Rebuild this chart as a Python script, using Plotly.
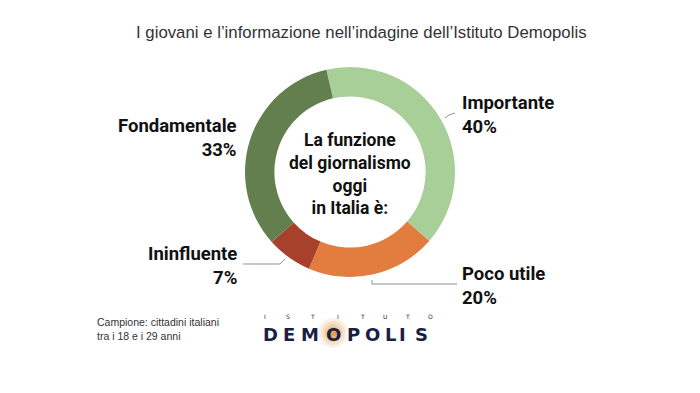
import plotly.graph_objects as go

# ---- data ----
categories = ["Importante", "Poco utile", "Ininfluente", "Fondamentale"]
values = [40, 20, 7, 33]
colors = ["#a8cf98", "#e27d3f", "#a8412b", "#627f4d"]
title_text = "I giovani e l’informazione nell’indagine dell’Istituto Demopolis"
center_text = "La funzione<br>del giornalismo<br>oggi<br>in Italia è:"
note_text = "Campione: cittadini italiani<br>tra i 18 e i 29 anni"

W, H = 700, 393


def px(x):
    return x / W


def py(y):
    return 1 - y / H


COND = "Roboto, Liberation Sans, sans-serif"

fig = go.Figure()
fig.add_trace(go.Pie(
    labels=categories, values=values, sort=False, direction="clockwise",
    rotation=-13, hole=0.72,
    marker=dict(colors=colors, line=dict(width=0)),
    textinfo="none", hoverinfo="skip", showlegend=False,
    domain=dict(x=[px(245), px(455)], y=[py(277), py(67)]),
))

annotations = []
# title
annotations.append(dict(x=px(361), y=py(32), text=title_text, showarrow=False,
                        xanchor="center", yanchor="middle",
                        font=dict(family="Liberation Sans, Arial, sans-serif", size=16.8, color="#333333")))
# center text
annotations.append(dict(x=px(350), y=py(173.5), text="<b>" + center_text + "</b>", showarrow=False,
                        xanchor="center", yanchor="middle", align="center",
                        font=dict(family=COND, size=17.5, color="#111111")))

# slice labels
label_pos = {
    "Importante": (460, 114.5, "left"),
    "Poco utile": (460, 286, "left"),
    "Ininfluente": (239, 265.5, "right"),
    "Fondamentale": (239, 138, "right"),
}
for cat, val in zip(categories, values):
    x, y, anc = label_pos[cat]
    annotations.append(dict(x=px(x), y=py(y), text=f"<b>{cat}<br>{val}%</b>", showarrow=False,
                            xanchor=anc, yanchor="middle", align=anc,
                            font=dict(family=COND, size=18.5, color="#111111")))

# footnote
annotations.append(dict(x=px(95), y=py(329), text=note_text, showarrow=False,
                        xanchor="left", yanchor="middle", align="left",
                        font=dict(family="Liberation Sans, Arial, sans-serif", size=10.5, color="#333333")))

shapes = []
# glow behind the O
for r, op in [(15, 0.10), (12, 0.14), (9, 0.2), (6, 0.3), (3.5, 0.45)]:
    shapes.append(dict(type="circle", xref="paper", yref="paper", layer="below",
                       x0=px(333 - r), x1=px(333 + r), y0=py(333 + r), y1=py(333 - r),
                       fillcolor="#d8891c", opacity=op, line=dict(width=0)))

# logo
logo_top = "ISTITUTO"
logo_top_x = [265, 288, 312, 338, 362, 385, 407, 430]
for ch, x in zip(logo_top, logo_top_x):
    annotations.append(dict(x=px(x), y=py(316.5), text=ch, showarrow=False, xanchor="center", yanchor="middle",
                            font=dict(family="DejaVu Sans, sans-serif", size=6, color="#1b1e45")))
logo_main = "DEMOPOLIS"
logo_main_x = [270, 289, 310, 333, 353, 372, 390, 402, 421]
for ch, x in zip(logo_main, logo_main_x):
    annotations.append(dict(x=px(x), y=py(334), text="<b>" + ch + "</b>", showarrow=False,
                            xanchor="center", yanchor="middle",
                            font=dict(family="DejaVu Sans, sans-serif", size=18, color="#1b1e45")))

# leader lines
LC = "#8a9099"
lines = [
    [(243, 264), (280, 264), (285, 259)],
    [(372, 280), (372, 284), (457, 284)],
    [(445, 118), (449, 115), (455, 113)],
]
for pts in lines:
    path = "M " + " L ".join(f"{px(a)} {py(b)}" for a, b in pts)
    shapes.append(dict(type="path", xref="paper", yref="paper", path=path,
                       line=dict(color=LC, width=1)))

fig.update_layout(width=W, height=H, margin=dict(l=0, r=0, t=0, b=0),
                  paper_bgcolor="white", plot_bgcolor="white",
                  annotations=annotations, shapes=shapes)
fig.write_html("out.html", config={"displayModeBar": False},
               post_script="document.body.style.margin='0px';")
